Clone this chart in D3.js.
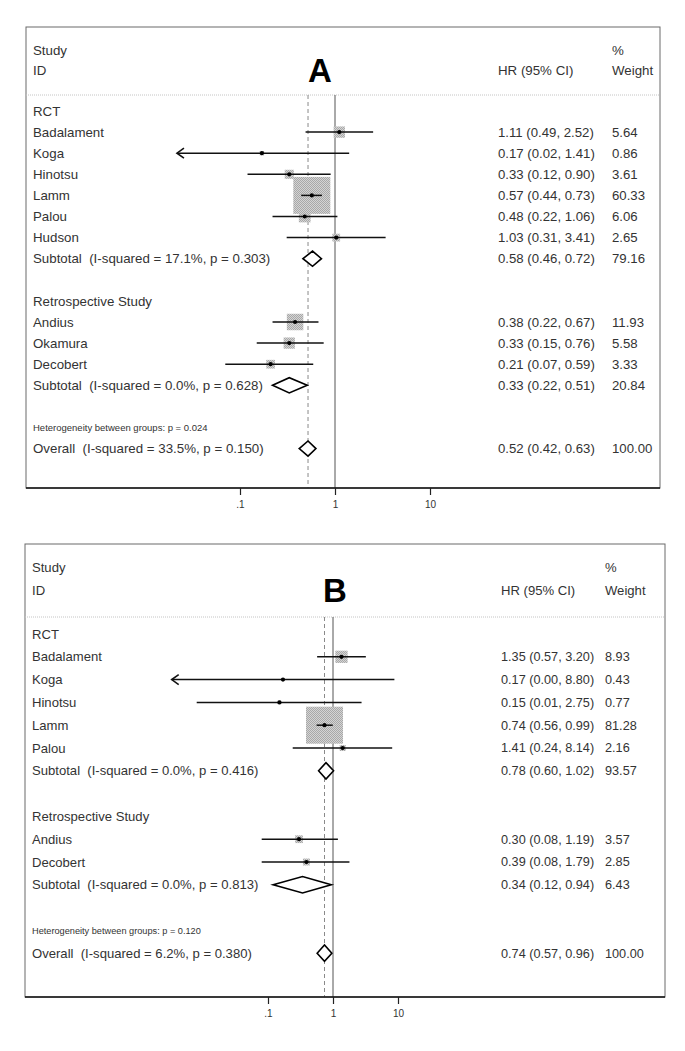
<!DOCTYPE html>
<html><head><meta charset="utf-8">
<script src="https://cdn.jsdelivr.net/npm/d3@7"></script>
<style>
body{margin:0;background:#fff}
svg text{font-family:"Liberation Sans",Arial,Helvetica,sans-serif;white-space:pre;fill:#333}
</style>
</head><body>
<svg id="chart" width="685" height="1051"></svg>
<script>
// ---------- Panel A data ----------
const kindsA  = ["g","s","s","s","s","s","s","t","b","g","s","s","s","t","b","h","o"];
const labelsA = ["RCT","Badalament","Koga","Hinotsu","Lamm","Palou","Hudson",
  "Subtotal  (I-squared = 17.1%, p = 0.303)","","Retrospective Study","Andius","Okamura","Decobert",
  "Subtotal  (I-squared = 0.0%, p = 0.628)","","Heterogeneity between groups: p = 0.024",
  "Overall  (I-squared = 33.5%, p = 0.150)"];
const hrA     = [null,1.11,0.17,0.33,0.57,0.48,1.03,0.58,null,null,0.38,0.33,0.21,0.33,null,null,0.52];
const lowA    = [null,0.49,0.02,0.12,0.44,0.22,0.31,0.46,null,null,0.22,0.15,0.07,0.22,null,null,0.42];
const highA   = [null,2.52,1.41,0.90,0.73,1.06,3.41,0.72,null,null,0.67,0.76,0.59,0.51,null,null,0.63];
const weightA = [null,5.64,0.86,3.61,60.33,6.06,2.65,79.16,null,null,11.93,5.58,3.33,20.84,null,null,100.00];

// ---------- Panel B data ----------
const kindsB  = ["g","s","s","s","s","s","t","b","g","s","s","t","b","h","o"];
const labelsB = ["RCT","Badalament","Koga","Hinotsu","Lamm","Palou",
  "Subtotal  (I-squared = 0.0%, p = 0.416)","","Retrospective Study","Andius","Decobert",
  "Subtotal  (I-squared = 0.0%, p = 0.813)","","Heterogeneity between groups: p = 0.120",
  "Overall  (I-squared = 6.2%, p = 0.380)"];
const hrB     = [null,1.35,0.17,0.15,0.74,1.41,0.78,null,null,0.30,0.39,0.34,null,null,0.74];
const lowB    = [null,0.57,0.001,0.008,0.56,0.24,0.60,null,null,0.08,0.08,0.12,null,null,0.57];
const highB   = [null,3.20,8.80,2.75,0.99,8.14,1.02,null,null,1.19,1.79,0.94,null,null,0.96];
const weightB = [null,8.93,0.43,0.77,81.28,2.16,93.57,null,null,3.57,2.85,6.43,null,null,100.00];

// axis ticks
const tickValues = [0.1, 1, 10];
const tickLabels = [".1", "1", "10"];

const svg = d3.select("#chart");
const fmt = d3.format(".2f");

// stipple pattern for weight boxes
const defs = svg.append("defs");
const pat = defs.append("pattern").attr("id","stip").attr("patternUnits","userSpaceOnUse")
  .attr("width",2).attr("height",2);
pat.append("rect").attr("width",2).attr("height",2).attr("fill","#d4d4d4");
pat.append("rect").attr("width",1).attr("height",1).attr("fill","#a8a8a8");
pat.append("rect").attr("x",1).attr("y",1).attr("width",1).attr("height",1).attr("fill","#a8a8a8");

function drawPanel(cfg, kinds, labels, hr, low, high, weight){
  const g = svg.append("g");
  const x = d3.scaleLog().domain([0.1, 10]).range([cfg.x1 - cfg.dec, cfg.x1 + cfg.dec]);
  const y = i => cfg.row0 + i * cfg.rowH;
  const xMinPx = x(cfg.xMin);
  const maxW = d3.max(kinds.map((k,i)=> k==="s" ? weight[i] : 0));
  const side = d3.scaleSqrt().domain([0, maxW]).range([0, cfg.maxBox]);
  const fs = cfg.fs;

  // frame
  g.append("rect").attr("x",cfg.left).attr("y",cfg.top)
    .attr("width",cfg.right-cfg.left).attr("height",cfg.bottom-cfg.top)
    .attr("fill","none").attr("stroke","#6a6a6a").attr("stroke-width",1);
  // header separator
  g.append("line").attr("x1",cfg.left).attr("x2",cfg.right).attr("y1",cfg.sep).attr("y2",cfg.sep)
    .attr("stroke","#c4c4c4").attr("stroke-dasharray","1,1");

  // headers
  const ht = (t,xx,yy)=> g.append("text").attr("x",xx).attr("y",yy).attr("dy","0.35em")
      .attr("font-size",fs).text(t);
  ht("Study", cfg.textX, cfg.studyY);
  ht("ID", cfg.textX, cfg.idY);
  ht("HR (95% CI)", cfg.hrX, cfg.idY);
  ht("%", cfg.wX, cfg.studyY);
  ht("Weight", cfg.wX, cfg.idY);
  g.append("text").attr("x",cfg.letterX).attr("y",cfg.letterY).attr("text-anchor","middle")
    .attr("font-size",33).attr("font-weight","bold").style("fill","#000").text(cfg.letter);

  // reference lines
  g.append("line").attr("x1",x(1)).attr("x2",x(1)).attr("y1",cfg.sep).attr("y2",cfg.bottom)
    .attr("stroke","#555").attr("stroke-width",1);
  const ov = kinds.indexOf("o");
  g.append("line").attr("x1",x(hr[ov])).attr("x2",x(hr[ov])).attr("y1",cfg.sep).attr("y2",cfg.bottom)
    .attr("stroke","#8a8a8a").attr("stroke-width",1).attr("stroke-dasharray","4,3");

  kinds.forEach((k,i)=>{
    const yy = y(i);
    if (k==="b") return;
    if (k==="h"){
      g.append("text").attr("x",cfg.textX).attr("y",yy).attr("dy","0.35em")
        .attr("font-size",cfg.fsSmall).text(labels[i]);
      return;
    }
    g.append("text").attr("x",cfg.textX).attr("y",yy).attr("dy","0.35em")
      .attr("font-size",fs).text(labels[i]);
    if (k==="g") return;
    g.append("text").attr("x",cfg.hrX).attr("y",yy).attr("dy","0.35em").attr("font-size",cfg.fsNum)
      .text(`${fmt(hr[i])} (${fmt(low[i])}, ${fmt(high[i])})`);
    g.append("text").attr("x",cfg.wX).attr("y",yy).attr("dy","0.35em").attr("font-size",cfg.fsNum)
      .text(fmt(weight[i]));
    if (k==="s"){
      const s = side(weight[i]);
      g.append("rect").attr("x",x(hr[i])-s/2).attr("y",yy-s/2).attr("width",s).attr("height",s)
        .attr("fill","url(#stip)");
      const lo = Math.max(x(low[i]), xMinPx);
      g.append("line").attr("x1",lo).attr("x2",x(high[i])).attr("y1",yy).attr("y2",yy)
        .attr("stroke","#111").attr("stroke-width",1.5);
      if (x(low[i]) < xMinPx){
        g.append("path").attr("d",`M${lo+7},${yy-5}L${lo},${yy}L${lo+7},${yy+5}`)
          .attr("fill","none").attr("stroke","#111").attr("stroke-width",1.6);
      }
      g.append("circle").attr("cx",x(hr[i])).attr("cy",yy).attr("r",2.1).attr("fill","#000");
    } else {
      const h = cfg.rowH*0.36;
      const xc = x(hr[i]), xl = x(low[i]), xr = x(high[i]);
      g.append("path").attr("d",`M${xl},${yy}L${xc},${yy-h}L${xr},${yy}L${xc},${yy+h}Z`)
        .attr("fill","#fff").attr("stroke","#000").attr("stroke-width",1.6);
    }
  });

  // axis line
  g.append("line").attr("x1",cfg.left).attr("x2",cfg.right).attr("y1",cfg.bottom).attr("y2",cfg.bottom)
    .attr("stroke","#111").attr("stroke-width",1.6);
  const ax = g.append("g").attr("transform",`translate(0,${cfg.bottom})`)
    .call(d3.axisBottom(x).tickValues(tickValues).tickFormat((d,i)=>tickLabels[i]).tickSize(7).tickPadding(6));
  ax.select(".domain").remove();
  ax.selectAll(".tick line").attr("stroke","#222").attr("stroke-width",1.2);
  ax.selectAll(".tick text").attr("font-size",10).attr("font-family","Liberation Sans, Arial, sans-serif").style("fill","#333");
}

drawPanel({letter:"A", left:26, right:660, top:27, bottom:488, sep:95, row0:111, rowH:21.1,
  x1:335, dec:95, xMin:0.0217, hrX:498, wX:612, textX:33, studyY:50, idY:70,
  letterX:320, letterY:82, maxBox:37, fs:13.3, fsNum:13.2, fsSmall:9.5},
  kindsA, labelsA, hrA, lowA, highA, weightA);

drawPanel({letter:"B", left:25, right:665, top:544, bottom:997, sep:617, row0:634, rowH:22.8,
  x1:333, dec:65, xMin:0.0033, hrX:501, wX:605, textX:32, studyY:567, idY:590,
  letterX:335, letterY:602, maxBox:37, fs:13.1, fsNum:12.7, fsSmall:9.2},
  kindsB, labelsB, hrB, lowB, highB, weightB);
</script>
</body></html>
